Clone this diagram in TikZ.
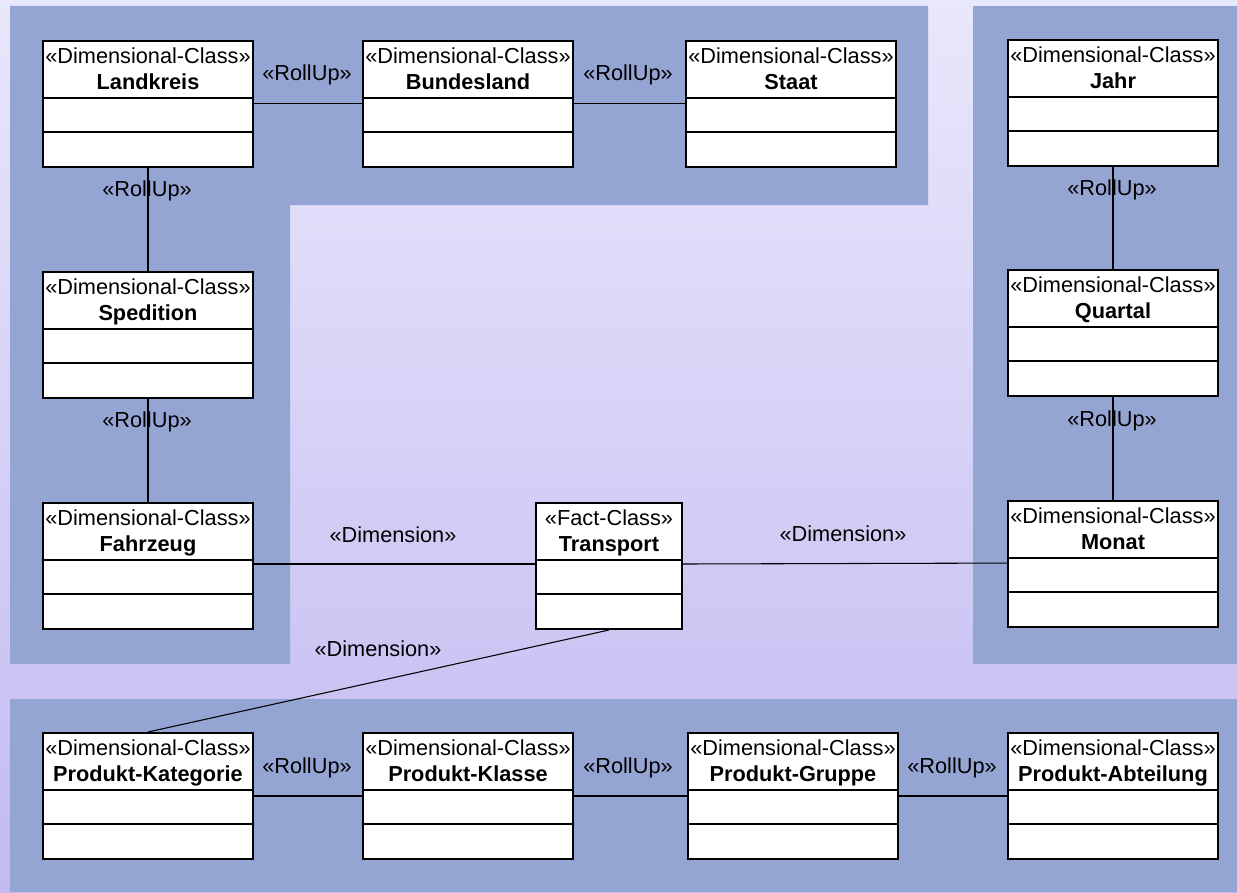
\documentclass[tikz,border=0pt]{standalone}
\usepackage{fontspec}
\setmainfont{Liberation Sans}
\usetikzlibrary{calc}

\definecolor{bgtop}{RGB}{233,231,251}
\definecolor{bgbottom}{RGB}{194,186,241}
\definecolor{panel}{RGB}{149,165,211}

\tikzset{
  umlfont/.style={font=\fontsize{16.3pt}{19pt}\selectfont},
  clsbox/.style={draw=black, fill=white, line width=1.5pt, rectangle,
    inner sep=0pt, minimum height=94.5pt, anchor=north west},
  sepline/.style={line width=1.5pt},
  link/.style={line width=0.8pt},
  stereo/.style={umlfont, anchor=base, inner sep=0pt},
  clsname/.style={umlfont, anchor=base, inner sep=0pt, font=\fontsize{16.3pt}{19pt}\selectfont\bfseries},
}

% class box: name, x, y, width (pt), stereotype, title
\newcommand\umlclassbox[6]{%
  \node[clsbox, minimum width=#4] (#1) at (#2,#3) {};
  \node[stereo] (#1-st) at ([yshift=-17.3pt]#1.north) {«#5»};
  \node[clsname] (#1-nm) at ([yshift=-36.8pt]#1.north) {#6};
  \draw[sepline] ([yshift=-43.5pt]#1.north west) -- ([yshift=-43.5pt]#1.north east);
  \draw[sepline] ([yshift=-69pt]#1.north west) -- ([yshift=-69pt]#1.north east);
}

\begin{document}
\begin{tikzpicture}[x=0.75pt, y=-0.75pt]
  \useasboundingbox (0,0) rectangle (1237,892);
  % background
  \shade[top color=bgtop, bottom color=bgbottom] (0,0) rectangle (1237,892);

  % grouping panels
  \fill[panel] (10,6) -- (928,6) -- (928,205) -- (290,205) -- (290,664) -- (10,664) -- cycle;
  \fill[panel] (973,6) rectangle (1237,664);
  \fill[panel] (10,699) rectangle (1237,892);

  % classes
  \umlclassbox{landkreis}{42}{40}{157.5pt}{Dimensional-Class}{Landkreis}
  \umlclassbox{bundesland}{362}{40}{157.5pt}{Dimensional-Class}{Bundesland}
  \umlclassbox{staat}{685}{40}{157.5pt}{Dimensional-Class}{Staat}
  \umlclassbox{spedition}{42}{271}{157.5pt}{Dimensional-Class}{Spedition}
  \umlclassbox{fahrzeug}{42}{502}{157.5pt}{Dimensional-Class}{Fahrzeug}
  \umlclassbox{jahr}{1007}{39}{157.5pt}{Dimensional-Class}{Jahr}
  \umlclassbox{quartal}{1007}{269}{157.5pt}{Dimensional-Class}{Quartal}
  \umlclassbox{monat}{1007}{500}{157.5pt}{Dimensional-Class}{Monat}
  \umlclassbox{transport}{535}{502}{109.5pt}{Fact-Class}{Transport}
  \umlclassbox{kategorie}{42}{732}{157.5pt}{Dimensional-Class}{Produkt-Kategorie}
  \umlclassbox{klasse}{362}{732}{157.5pt}{Dimensional-Class}{Produkt-Klasse}
  \umlclassbox{gruppe}{687}{732}{157.5pt}{Dimensional-Class}{Produkt-Gruppe}
  \umlclassbox{abteilung}{1007}{732}{157.5pt}{Dimensional-Class}{Produkt-Abteilung}

  % connector labels
  \node[stereo] (r1) at (307,80) {«RollUp»};
  \node[stereo] (r2) at (628,80) {«RollUp»};
  \node[stereo] (r3) at (147,196) {«RollUp»};
  \node[stereo] (r4) at (147,427) {«RollUp»};
  \node[stereo] (r5) at (1112,195) {«RollUp»};
  \node[stereo] (r6) at (1112,426) {«RollUp»};
  \node[stereo] (r7) at (307,773) {«RollUp»};
  \node[stereo] (r8) at (628,773) {«RollUp»};
  \node[stereo] (r9) at (952,773) {«RollUp»};
  \node[stereo] (d1) at (393,542) {«Dimension»};
  \node[stereo] (d2) at (843,541) {«Dimension»};
  \node[stereo] (d3) at (378,656) {«Dimension»};

  % connectors
  \draw[link] ([yshift=-47.3pt]landkreis.north east) -- ([yshift=-47.3pt]bundesland.north west);
  \draw[link] ([yshift=-47.3pt]bundesland.north east) -- ([yshift=-47.3pt]staat.north west);
  \draw[link] (landkreis.south) -- (spedition.north);
  \draw[link] (spedition.south) -- (fahrzeug.north);
  \draw[link] (jahr.south) -- (quartal.north);
  \draw[link] (quartal.south) -- (monat.north);
  \draw[link] ([yshift=-46.5pt]fahrzeug.north east) -- ([yshift=-46.5pt]transport.north west);
  \draw[link] ([yshift=-46.5pt]transport.north east) -- ([yshift=-47.3pt]monat.north west);
  \draw[link] (transport.south) -- (kategorie.north);
  \draw[link] ([yshift=-48pt]kategorie.north east) -- ([yshift=-48pt]klasse.north west);
  \draw[link] ([yshift=-48pt]klasse.north east) -- ([yshift=-48pt]gruppe.north west);
  \draw[link] ([yshift=-48pt]gruppe.north east) -- ([yshift=-48pt]abteilung.north west);
\end{tikzpicture}
\end{document}
